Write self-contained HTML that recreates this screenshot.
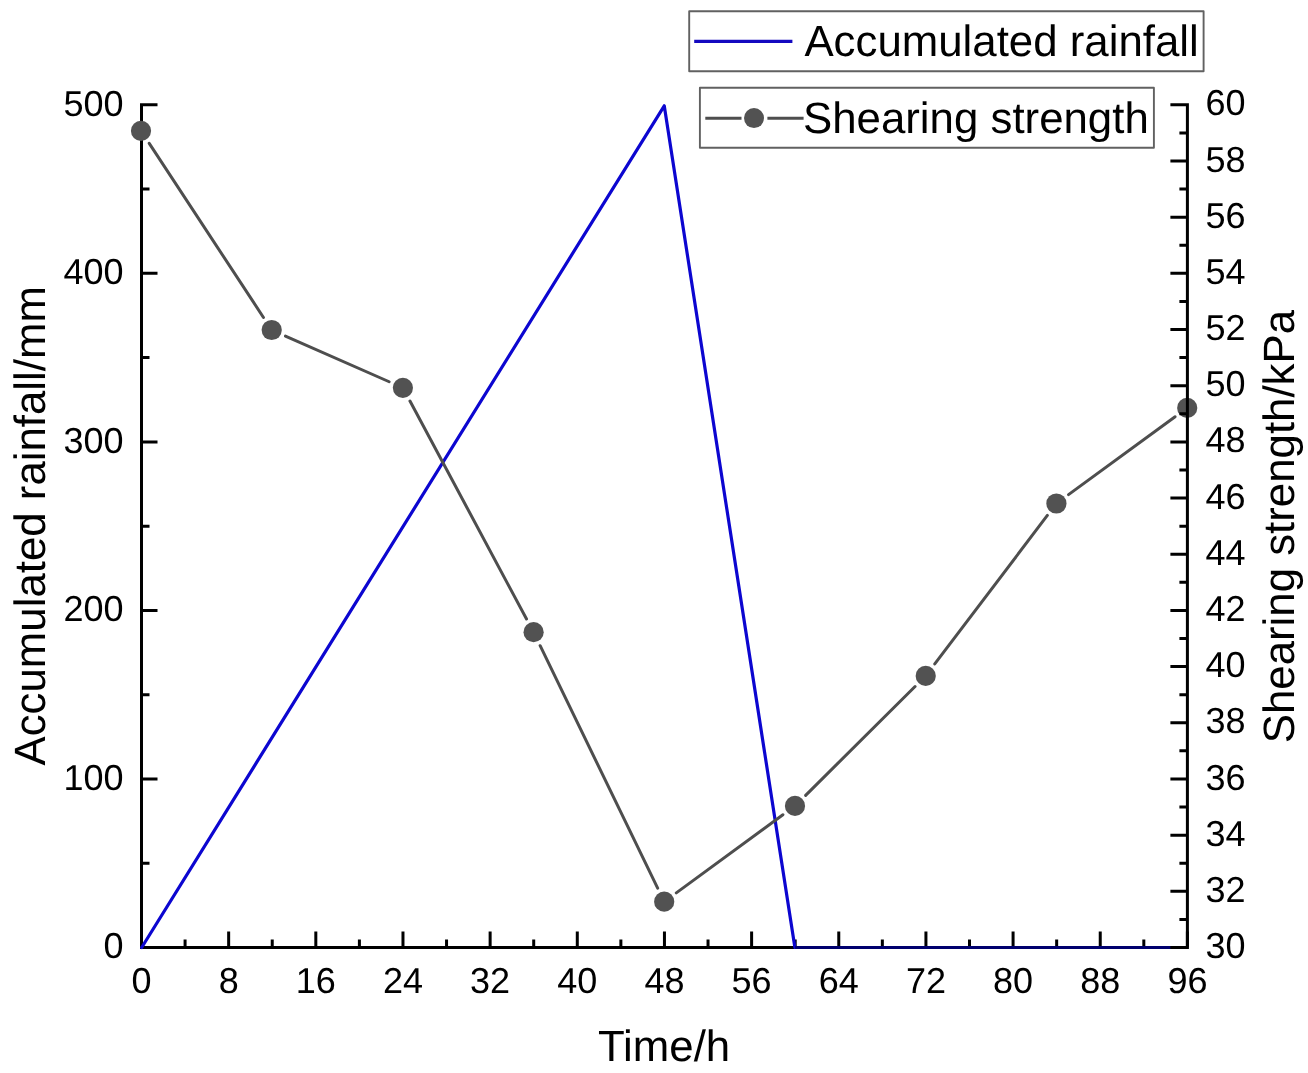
<!DOCTYPE html>
<html><head><meta charset="utf-8"><title>Accumulated rainfall and shearing strength vs time</title>
<style>html,body{margin:0;padding:0;background:#fff;overflow:hidden}svg{display:block}</style>
</head><body>
<svg width="1308" height="1073" viewBox="0 0 1308 1073" font-family='"Liberation Sans", Arial, sans-serif' text-rendering="geometricPrecision">
<path d="M141.50 103.30V949.00 M140.00 947.50H1187.40 M141.50 947.50H157.50 M141.50 863.23H149.50 M141.50 778.96H157.50 M141.50 694.69H149.50 M141.50 610.42H157.50 M141.50 526.15H149.50 M141.50 441.88H157.50 M141.50 357.61H149.50 M141.50 273.34H157.50 M141.50 189.07H149.50 M141.50 104.80H157.50 M141.50 947.50V931.50 M185.08 947.50V939.50 M228.66 947.50V931.50 M272.24 947.50V939.50 M315.82 947.50V931.50 M359.40 947.50V939.50 M402.98 947.50V931.50 M446.55 947.50V939.50 M490.13 947.50V931.50 M533.71 947.50V939.50 M577.29 947.50V931.50 M620.87 947.50V939.50 M664.45 947.50V931.50 M708.03 947.50V939.50 M751.61 947.50V931.50 M795.19 947.50V939.50 M838.77 947.50V931.50 M882.35 947.50V939.50 M925.93 947.50V931.50 M969.50 947.50V939.50 M1013.08 947.50V931.50 M1056.66 947.50V939.50 M1100.24 947.50V931.50 M1143.82 947.50V939.50 M1187.40 947.50V931.50" fill="none" stroke="#000" stroke-width="3"/>
<polyline points="141.70,947.50 664.25,105.80 794.89,947.50" fill="none" stroke="#0c06d0" stroke-width="3.2" stroke-linejoin="round" stroke-linecap="round"/>
<line x1="795.19" y1="947.50" x2="1175" y2="947.50" stroke="#00006e" stroke-width="3"/>
<line x1="149.23" y1="143.34" x2="263.47" y2="317.46" stroke="#4e4e4e" stroke-width="3" stroke-linecap="round"/>
<line x1="285.43" y1="336.05" x2="389.17" y2="381.75" stroke="#4e4e4e" stroke-width="3" stroke-linecap="round"/>
<line x1="409.97" y1="401.03" x2="526.53" y2="618.97" stroke="#4e4e4e" stroke-width="3" stroke-linecap="round"/>
<line x1="540.14" y1="645.70" x2="657.66" y2="888.20" stroke="#4e4e4e" stroke-width="3" stroke-linecap="round"/>
<line x1="676.30" y1="892.84" x2="782.90" y2="814.76" stroke="#4e4e4e" stroke-width="3" stroke-linecap="round"/>
<line x1="805.64" y1="795.32" x2="915.06" y2="686.48" stroke="#4e4e4e" stroke-width="3" stroke-linecap="round"/>
<line x1="934.76" y1="663.95" x2="1047.34" y2="515.45" stroke="#4e4e4e" stroke-width="3" stroke-linecap="round"/>
<line x1="1068.51" y1="494.65" x2="1175.09" y2="416.75" stroke="#4e4e4e" stroke-width="3" stroke-linecap="round"/>
<circle cx="141.00" cy="130.80" r="10.1" fill="#525252"/>
<circle cx="271.70" cy="330.00" r="10.1" fill="#525252"/>
<circle cx="402.90" cy="387.80" r="10.1" fill="#525252"/>
<circle cx="533.60" cy="632.20" r="10.1" fill="#525252"/>
<circle cx="664.20" cy="901.70" r="10.1" fill="#525252"/>
<circle cx="795.00" cy="805.90" r="10.1" fill="#525252"/>
<circle cx="925.70" cy="675.90" r="10.1" fill="#525252"/>
<circle cx="1056.40" cy="503.50" r="10.1" fill="#525252"/>
<circle cx="1187.20" cy="407.90" r="10.1" fill="#525252"/>
<path d="M1187.40 103.30V949.00 M1177.40 947.50H1187.40 M1187.40 947.50H1170.40 M1187.40 919.41H1179.40 M1187.40 891.32H1170.40 M1187.40 863.23H1179.40 M1187.40 835.14H1170.40 M1187.40 807.05H1179.40 M1187.40 778.96H1170.40 M1187.40 750.87H1179.40 M1187.40 722.78H1170.40 M1187.40 694.69H1179.40 M1187.40 666.60H1170.40 M1187.40 638.51H1179.40 M1187.40 610.42H1170.40 M1187.40 582.33H1179.40 M1187.40 554.24H1170.40 M1187.40 526.15H1179.40 M1187.40 498.06H1170.40 M1187.40 469.97H1179.40 M1187.40 441.88H1170.40 M1187.40 413.79H1179.40 M1187.40 385.70H1170.40 M1187.40 357.61H1179.40 M1187.40 329.52H1170.40 M1187.40 301.43H1179.40 M1187.40 273.34H1170.40 M1187.40 245.25H1179.40 M1187.40 217.16H1170.40 M1187.40 189.07H1179.40 M1187.40 160.98H1170.40 M1187.40 132.89H1179.40 M1187.40 104.80H1170.40" fill="none" stroke="#000" stroke-width="3"/>
<g font-size="36.0" fill="#000"><text x="123.5" y="958.30" text-anchor="end">0</text><text x="123.5" y="789.76" text-anchor="end">100</text><text x="123.5" y="621.22" text-anchor="end">200</text><text x="123.5" y="452.68" text-anchor="end">300</text><text x="123.5" y="284.14" text-anchor="end">400</text><text x="123.5" y="115.60" text-anchor="end">500</text><text x="1205.5" y="958.10">30</text><text x="1205.5" y="901.92">32</text><text x="1205.5" y="845.74">34</text><text x="1205.5" y="789.56">36</text><text x="1205.5" y="733.38">38</text><text x="1205.5" y="677.20">40</text><text x="1205.5" y="621.02">42</text><text x="1205.5" y="564.84">44</text><text x="1205.5" y="508.66">46</text><text x="1205.5" y="452.48">48</text><text x="1205.5" y="396.30">50</text><text x="1205.5" y="340.12">52</text><text x="1205.5" y="283.94">54</text><text x="1205.5" y="227.76">56</text><text x="1205.5" y="171.58">58</text><text x="1205.5" y="115.40">60</text><text x="141.50" y="992.8" text-anchor="middle">0</text><text x="228.66" y="992.8" text-anchor="middle">8</text><text x="315.82" y="992.8" text-anchor="middle">16</text><text x="402.98" y="992.8" text-anchor="middle">24</text><text x="490.13" y="992.8" text-anchor="middle">32</text><text x="577.29" y="992.8" text-anchor="middle">40</text><text x="664.45" y="992.8" text-anchor="middle">48</text><text x="751.61" y="992.8" text-anchor="middle">56</text><text x="838.77" y="992.8" text-anchor="middle">64</text><text x="925.93" y="992.8" text-anchor="middle">72</text><text x="1013.08" y="992.8" text-anchor="middle">80</text><text x="1100.24" y="992.8" text-anchor="middle">88</text><text x="1187.40" y="992.8" text-anchor="middle">96</text></g>
<g font-size="43.8" fill="#000">
<text x="664.1" y="1060.8" text-anchor="middle">Time/h</text>
<text transform="translate(45.2 525.8) rotate(-90)" text-anchor="middle">Accumulated rainfall/mm</text>
<text transform="translate(1293.6 526.6) rotate(-90)" text-anchor="middle">Shearing strength/kPa</text>
</g>
<rect x="689.2" y="11.2" width="514.4" height="60" fill="#fff" stroke="#616161" stroke-width="1.9" stroke-linejoin="round"/>
<line x1="694.2" y1="41.3" x2="792.4" y2="41.3" stroke="#1409c0" stroke-width="3.2"/>
<text x="804.4" y="55.9" font-size="43.8">Accumulated rainfall</text>
<rect x="699.9" y="87.8" width="454" height="60" fill="#fff" stroke="#616161" stroke-width="1.9" stroke-linejoin="round"/>
<line x1="705.3" y1="118.2" x2="741.5" y2="118.2" stroke="#4e4e4e" stroke-width="3"/>
<line x1="767.4" y1="118.2" x2="803.6" y2="118.2" stroke="#4e4e4e" stroke-width="3"/>
<circle cx="754.0" cy="118.1" r="10" fill="#525252"/>
<text x="803.0" y="132.7" font-size="43.8">Shearing strength</text>
</svg>
</body></html>
